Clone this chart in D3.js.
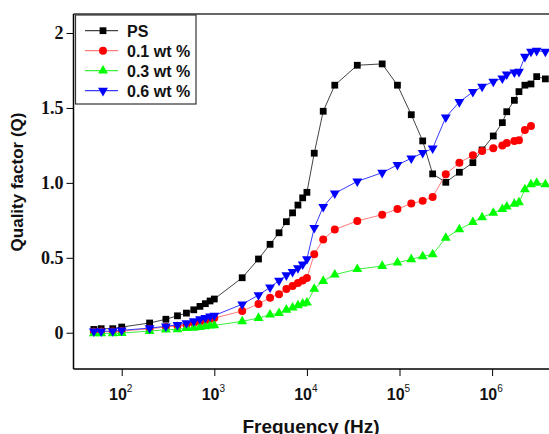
<!DOCTYPE html>
<html>
<head>
<meta charset="utf-8">
<script src="https://cdn.jsdelivr.net/npm/d3@7"></script>
<style>
  body { margin: 0; background: #fff; }
  svg { display: block; }
</style>
</head>
<body>
<div class="container"></div>
<script>

// frequencies (Hz)
const freq = [50, 60, 80, 100, 200, 300, 400, 500, 600, 700, 800, 900,
    1e3, 2e3, 3e3, 4e3, 5e3, 6e3, 7e3, 8e3, 9e3, 1e4,
    1.2e4, 1.5e4, 2e4, 3.5e4, 6.5e4, 9.5e4, 1.34e5, 1.78e5, 2.28e5, 3.16e5,
    4.43e5, 6.2e5, 7.8e5, 1.03e6, 1.29e6, 1.44e6, 1.74e6, 1.95e6, 2.26e6, 2.63e6,
    3.03e6, 3.76e6];

// quality factor per sample
const qPS = [0.022, 0.027, 0.027, 0.038, 0.065, 0.09, 0.113, 0.131, 0.153, 0.176, 0.194, 0.212,
    0.225, 0.367, 0.492, 0.59, 0.667, 0.741, 0.80, 0.852, 0.90, 0.937,
    1.198, 1.478, 1.652, 1.785, 1.794, 1.652, 1.455, 1.28, 1.06, 1.004,
    1.071, 1.135, 1.22, 1.313, 1.402, 1.475, 1.551, 1.609, 1.652, 1.66,
    1.709, 1.694];

const q01 = [0.007, 0.008, 0.009, 0.011, 0.027, 0.038, 0.047, 0.053, 0.065, 0.073, 0.083, 0.091,
    0.098, 0.145, 0.192, 0.234, 0.257, 0.292, 0.312, 0.332, 0.349, 0.366,
    0.523, 0.622, 0.689, 0.746, 0.788, 0.826, 0.862, 0.88, 0.906, 1.057,
    1.135, 1.185, 1.213, 1.231, 1.25, 1.266, 1.28, 1.285, 1.353, 1.38];

const q03 = [-0.005, -0.005, -0.004, -0.002, 0.011, 0.02, 0.022, 0.031, 0.033, 0.038, 0.043, 0.047,
    0.049, 0.076, 0.098, 0.12, 0.131, 0.153, 0.167, 0.183, 0.194, 0.2,
    0.292, 0.345, 0.388, 0.424, 0.445, 0.467, 0.49, 0.51, 0.523, 0.633,
    0.689, 0.738, 0.77, 0.80, 0.824, 0.841, 0.859, 0.87, 0.957, 0.99,
    1.0, 0.99];

const q06 = [0.009, 0.009, 0.011, 0.016, 0.031, 0.043, 0.053, 0.065, 0.078, 0.091, 0.1, 0.109,
    0.115, 0.19, 0.251, 0.303, 0.348, 0.384, 0.406, 0.432, 0.456, 0.492,
    0.70, 0.84, 0.93, 1.01, 1.068, 1.12, 1.164, 1.2, 1.23, 1.438,
    1.54, 1.607, 1.642, 1.676, 1.698, 1.725, 1.738, 1.742, 1.842, 1.876,
    1.882, 1.876];

const seriesNames = ["PS", "0.1 wt %", "0.3 wt %", "0.6 wt %"];
const yTicks = [0, 0.5, 1.0, 1.5, 2];
const yTickLabels = ["0", "0.5", "1.0", "1.5", "2"];
const xTicks = [1e2, 1e3, 1e4, 1e5, 1e6];

const series = [
    {name: seriesNames[0], values: qPS, line: "#444", fill: "#000", shape: "square"},
    {name: seriesNames[1], values: q01, line: "#ff7a7a", fill: "#ff0000", shape: "circle"},
    {name: seriesNames[2], values: q03, line: "#3cf03c", fill: "#00ff00", shape: "up"},
    {name: seriesNames[3], values: q06, line: "#3a3aff", fill: "#0000ff", shape: "down"}
];

const width = 549, height = 434;

// scales: frame left at 73, bottom at 369
const x = d3.scaleLog()
    .domain([30, 1e7])
    .range([73.3, 584.7]);

const y = d3.scaleLinear()
    .domain([-0.242, 2.127])
    .range([369, 14]);

const svg = d3.select(".container")
    .append("svg")
    .attr("width", width)
    .attr("height", height);

// frame (top line, right side is cut off)
svg.append("line")
    .attr("x1", 73.5).attr("x2", width)
    .attr("y1", 14).attr("y2", 14)
    .attr("stroke", "#333").attr("stroke-width", 1.5);

// y axis
const yAxis = d3.axisLeft(y)
    .tickValues(yTicks)
    .tickSize(7)
    .tickPadding(3)
    .tickFormat((d, i) => yTickLabels[i]);

const gy = svg.append("g")
    .attr("transform", "translate(73.5,0)")
    .call(yAxis);
gy.select(".domain").attr("d", "M0,14V369").attr("stroke", "#000").attr("stroke-width", 1.5);
gy.selectAll(".tick line").attr("stroke", "#000");
gy.selectAll(".tick text")
    .attr("font-family", "'Liberation Serif', 'Times New Roman', serif")
    .attr("font-weight", "bold")
    .attr("font-size", "18px")
    .attr("fill", "#111");

// x axis
const xAxis = d3.axisBottom(x)
    .tickValues(xTicks)
    .tickSize(7)
    .tickFormat("");

const gx = svg.append("g")
    .attr("transform", "translate(0,369)")
    .call(xAxis);
gx.select(".domain").attr("d", "M73.5,0H" + width).attr("stroke", "#000").attr("stroke-width", 1.5);
gx.selectAll(".tick line").attr("stroke", "#000");

// tick labels as 10 with superscript exponent
const xLabels = svg.append("g")
    .attr("font-family", "'Liberation Sans', Arial, sans-serif")
    .attr("font-weight", "bold")
    .attr("fill", "#111");

xTicks.forEach(t => {
    const txt = xLabels.append("text")
        .attr("x", x(t) - 1)
        .attr("y", 400)
        .attr("text-anchor", "middle")
        .attr("font-size", "16px");
    txt.append("tspan").text("10");
    txt.append("tspan")
        .attr("dy", -8)
        .attr("font-size", "10px")
        .attr("font-weight", "normal")
        .text(Math.round(Math.log10(t)));
});

// axis titles
svg.append("text")
    .attr("x", 311)
    .attr("y", 433)
    .attr("text-anchor", "middle")
    .attr("font-family", "'Liberation Sans', Arial, sans-serif")
    .attr("font-weight", "bold")
    .attr("font-size", "19px")
    .attr("fill", "#111")
    .text("Frequency (Hz)");

svg.append("text")
    .attr("transform", "translate(23,182) rotate(-90)")
    .attr("text-anchor", "middle")
    .attr("font-family", "'Liberation Sans', Arial, sans-serif")
    .attr("font-weight", "bold")
    .attr("font-size", "17px")
    .attr("fill", "#111")
    .text("Quality factor (Q)");

// markers
const symbolFor = {
    square: d3.symbol().type(d3.symbolSquare).size(46),
    circle: d3.symbol().type(d3.symbolCircle).size(50),
    up: d3.symbol().type(d3.symbolTriangle).size(42),
    down: d3.symbol().type(d3.symbolTriangle).size(42)
};

const line = d3.line()
    .x(d => x(d[0]))
    .y(d => y(d[1]));

series.forEach(s => {
    const pts = s.values.map((v, i) => [freq[i], v]);
    const g = svg.append("g");

    g.append("path")
        .datum(pts)
        .attr("d", line)
        .attr("fill", "none")
        .attr("stroke", s.line)
        .attr("stroke-width", 1);

    g.selectAll("path.mark")
        .data(pts)
        .enter()
        .append("path")
        .attr("class", "mark")
        .attr("d", symbolFor[s.shape])
        .attr("transform", d => `translate(${x(d[0])},${y(d[1])})` + (s.shape === "down" ? " rotate(180)" : ""))
        .attr("fill", s.fill);
});

// legend
const legend = svg.append("g");
legend.append("rect")
    .attr("x", 75.5).attr("y", 15)
    .attr("width", 120.5).attr("height", 89)
    .attr("fill", "#fff")
    .attr("stroke", "#333")
    .attr("stroke-width", 1.2);

series.forEach((s, i) => {
    const ly = 30.7 + i * 20;
    legend.append("line")
        .attr("x1", 85).attr("x2", 118)
        .attr("y1", ly).attr("y2", ly)
        .attr("stroke", s.line)
        .attr("stroke-width", 1.2);
    legend.append("path")
        .attr("d", symbolFor[s.shape])
        .attr("transform", `translate(103,${ly})` + (s.shape === "down" ? " rotate(180)" : ""))
        .attr("fill", s.fill);
    legend.append("text")
        .attr("x", 127)
        .attr("y", ly + 6)
        .attr("font-family", "'Liberation Sans', Arial, sans-serif")
        .attr("font-weight", "bold")
        .attr("font-size", "16px")
        .attr("fill", "#111")
        .text(s.name);
});

</script>
</body>
</html>
